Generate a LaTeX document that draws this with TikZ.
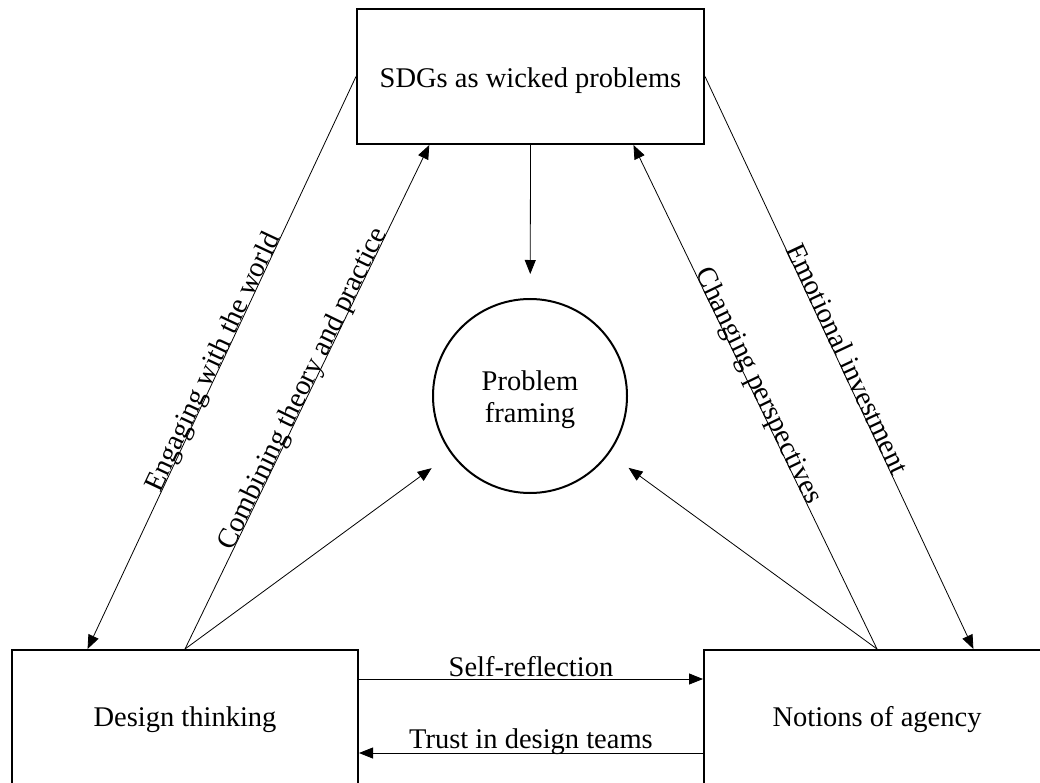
\documentclass[tikz,border=0pt]{standalone}
\usepackage{fontspec}
\setmainfont{Liberation Serif}
\usetikzlibrary{arrows.meta,calc}
\begin{document}
\begin{tikzpicture}[x=1pt,y=-1pt,
  >={Triangle[length=14pt,width=11pt]},
  bigfont/.style={font=\fontsize{28.5}{32}\selectfont},
  boxnode/.style={draw,line width=2pt,inner sep=0pt,bigfont},
  conn/.style={line width=0.8pt},
  lbl/.style={sloped,anchor=base,inner sep=1pt,bigfont},
  hlbl/.style={midway,anchor=base,inner sep=0pt,bigfont}]
\clip (0,0) rectangle (1040,783);
\useasboundingbox (0,0) rectangle (1040,783);
\fill[white] (0,0) rectangle (1040,783);

\node[boxnode,minimum width=347pt,minimum height=135pt] (sdg) at (530.5,76.5) {\raisebox{-4pt}[\height][\depth]{SDGs as wicked problems}};
\node[boxnode,minimum width=346pt,minimum height=140pt] (dt) at (185,720) {Design thinking};
\node[boxnode,minimum width=346pt,minimum height=140pt] (noa) at (877,720) {Notions of agency};
\node[draw,circle,line width=2pt,minimum size=194pt,inner sep=0pt] (pf) at (530,396) {};
\node[align=center,inner sep=0pt,bigfont] (pftext) at (530,400) {Problem\\framing};

\coordinate (y1) at (0,679);
\coordinate (y2) at (0,753);

\draw[conn,<-] ($(dt.north west)!0.22!(dt.north east)$) -- (sdg.west)
  node[lbl,pos=0.495] {Engaging with the world};
\draw[conn,->] (dt.north) -- ($(sdg.south west)!0.21!(sdg.south east)$)
  node[lbl,pos=0.51] {Combining theory and practice};
\draw[conn,->,shorten >=24pt] (dt.north) -- (pf);
\draw[conn,->,shorten >=24pt] (sdg.south) -- (pf);
\draw[conn,->,shorten >=24pt] (noa.north) -- (pf);
\draw[conn,<-] ($(sdg.south west)!0.795!(sdg.south east)$) -- (noa.north)
  node[lbl,pos=0.485] {Changing perspectives};
\draw[conn,->] (sdg.east) -- ($(noa.north west)!0.777!(noa.north east)$)
  node[lbl,pos=0.5] {Emotional investment};
\draw[conn,->] (dt.east |- y1) -- (noa.west |- y1)
  node[hlbl,yshift=3pt] {Self-reflection};
\draw[conn,<-] (dt.east |- y2) -- (noa.west |- y2)
  node[hlbl,yshift=5pt] {Trust in design teams};
\end{tikzpicture}
\end{document}
